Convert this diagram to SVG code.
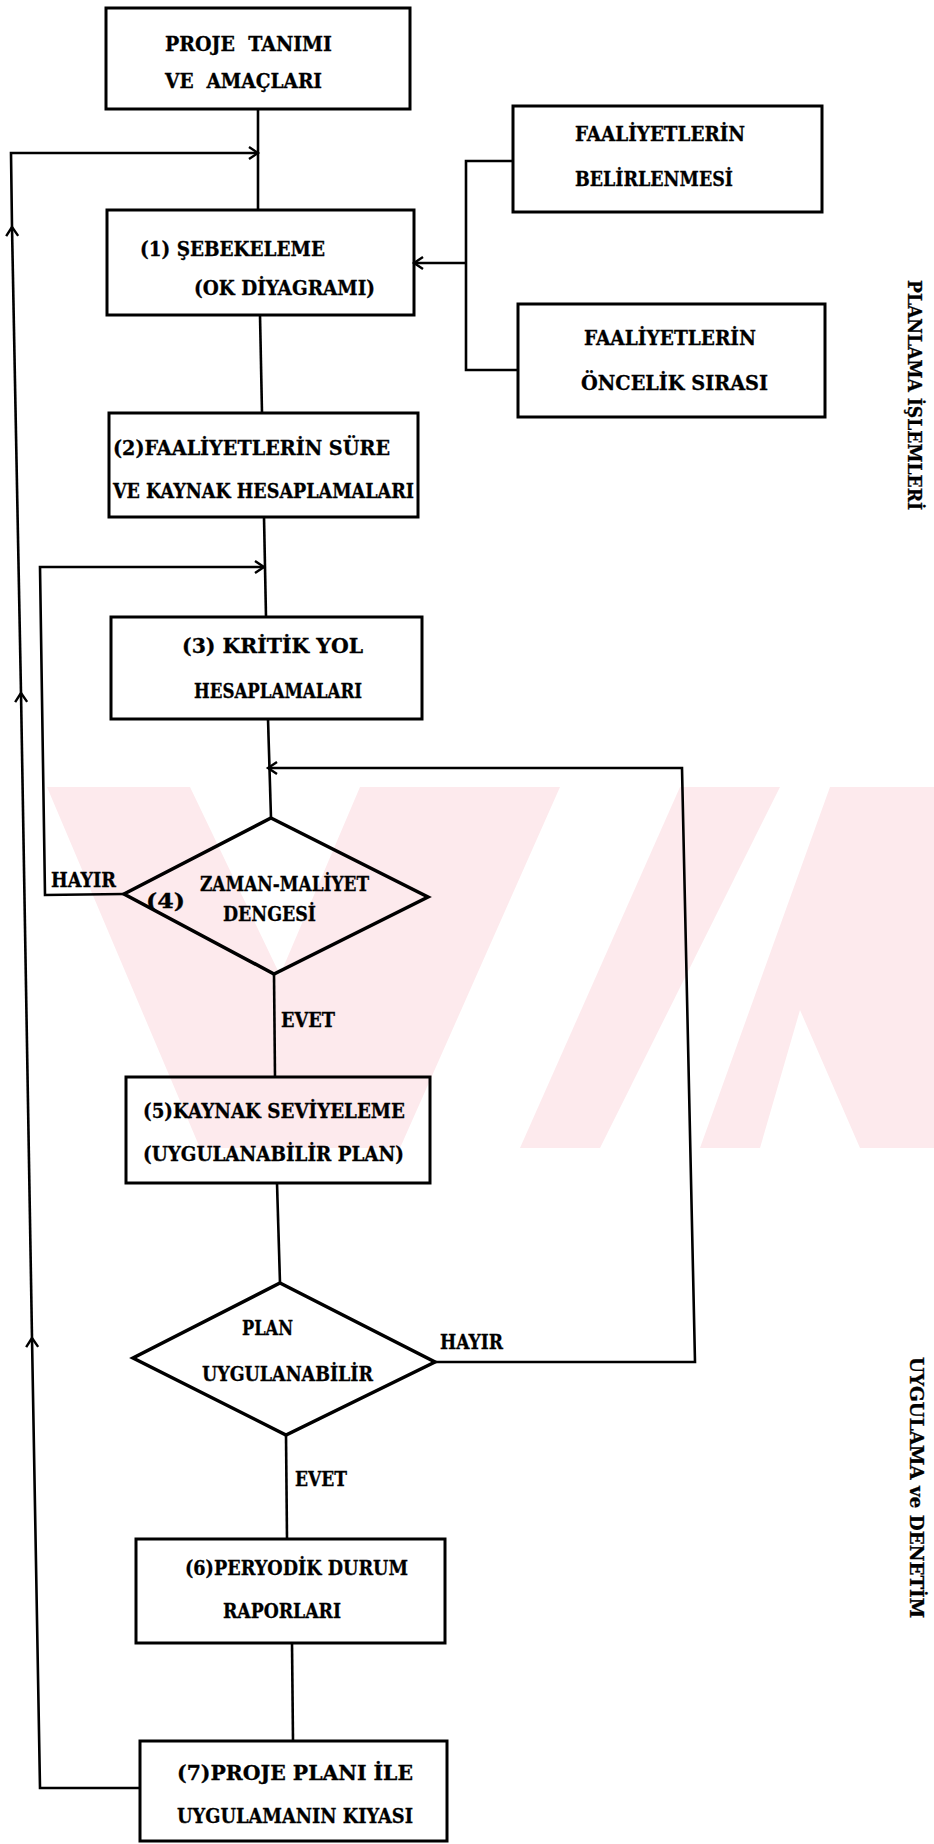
<svg xmlns="http://www.w3.org/2000/svg" width="934" height="1844" viewBox="0 0 934 1844">
<defs>
<style>
.t{font-family:"DejaVu Serif","Liberation Serif",serif;font-stretch:condensed;font-weight:bold;font-size:21px;fill:#000;stroke:#000;stroke-width:0.3}
.s{font-family:"DejaVu Serif","Liberation Serif",serif;font-stretch:condensed;font-weight:bold;font-size:19px;fill:#000;stroke:#000;stroke-width:0.3}
.box{fill:none;stroke:#000;stroke-width:3}
.dia{fill:none;stroke:#000;stroke-width:3.5;stroke-linejoin:miter}
.ln{fill:none;stroke:#000;stroke-width:2.6}
.wm{fill:#fdeaed}
</style>
<marker id="ah" markerWidth="14" markerHeight="16" refX="10" refY="7" orient="auto" markerUnits="userSpaceOnUse">
<path d="M1,1 L10,7 L1,13" fill="none" stroke="#000" stroke-width="2.4"/>
</marker>
</defs>
<rect width="934" height="1844" fill="#fff"/>
<g id="watermark">
<polygon class="wm" points="47,787 190,787 280,975 360,787 560,787 400,1148 200,1148"/>
<polygon class="wm" points="680,787 780,787 600,1148 520,1148"/>
<polygon class="wm" points="830,787 934,787 934,1148 860,1148 800,1010 760,1148 700,1148"/>
</g>
<g id="connectors">
<path class="ln" d="M258,110 L258,210"/>
<path class="ln" d="M260,315 L262,413"/>
<path class="ln" d="M264,517 L266,617"/>
<path class="ln" d="M268,719 L271,818"/>
<path class="ln" d="M274,974 L275,1077"/>
<path class="ln" d="M277,1183 L280,1283"/>
<path class="ln" d="M286,1435 L287,1539"/>
<path class="ln" d="M292,1643 L293,1741"/>
<path class="ln" d="M513,161 L466,161 L466,370 L518,370"/>
<path class="ln" d="M466,263 L414,263" marker-end="url(#ah)"/>
<path class="ln" d="M140,1788 L40,1788 L32,1338" marker-end="url(#ah)"/>
<path class="ln" d="M32,1338 L21,693" marker-end="url(#ah)"/>
<path class="ln" d="M21,693 L12,227" marker-end="url(#ah)"/>
<path class="ln" d="M12,227 L11,153 L258,153" marker-end="url(#ah)"/>
<path class="ln" d="M124,894 L45,895 L40,567 L264,567" marker-end="url(#ah)"/>
<path class="ln" d="M435,1362 L695,1362 L682,768 L268,768" marker-end="url(#ah)"/>
<text class="t" x="51" y="887" textLength="65" lengthAdjust="spacingAndGlyphs">HAYIR</text>
<text class="t" x="281" y="1027" textLength="54" lengthAdjust="spacingAndGlyphs">EVET</text>
<text class="t" x="440" y="1349" textLength="63" lengthAdjust="spacingAndGlyphs">HAYIR</text>
<text class="t" x="295" y="1486" textLength="52" lengthAdjust="spacingAndGlyphs">EVET</text>
</g>
<g id="n0">
<rect class="box" x="106" y="8" width="304" height="101"/>
<text class="t" x="165" y="51" xml:space="preserve" textLength="167" lengthAdjust="spacingAndGlyphs">PROJE  TANIMI</text>
<text class="t" x="165" y="88" xml:space="preserve" textLength="157" lengthAdjust="spacingAndGlyphs">VE  AMAÇLARI</text>
</g>
<g id="n1">
<rect class="box" x="107" y="210" width="307" height="105"/>
<text class="t" x="140" y="256" textLength="185" lengthAdjust="spacingAndGlyphs">(1) ŞEBEKELEME</text>
<text class="t" x="194" y="295" textLength="181" lengthAdjust="spacingAndGlyphs">(OK DİYAGRAMI)</text>
</g>
<g id="na">
<rect class="box" x="513" y="106" width="309" height="106"/>
<text class="t" x="575" y="141" textLength="170" lengthAdjust="spacingAndGlyphs">FAALİYETLERİN</text>
<text class="t" x="575" y="186" textLength="158" lengthAdjust="spacingAndGlyphs">BELİRLENMESİ</text>
</g>
<g id="nb">
<rect class="box" x="518" y="304" width="307" height="113"/>
<text class="t" x="584" y="345" textLength="172" lengthAdjust="spacingAndGlyphs">FAALİYETLERİN</text>
<text class="t" x="581" y="390" textLength="187" lengthAdjust="spacingAndGlyphs">ÖNCELİK SIRASI</text>
</g>
<g id="n2">
<rect class="box" x="109" y="413" width="309" height="104"/>
<text class="t" x="113" y="455" textLength="277" lengthAdjust="spacingAndGlyphs">(2)FAALİYETLERİN SÜRE</text>
<text class="t" x="113" y="498" textLength="301" lengthAdjust="spacingAndGlyphs">VE KAYNAK HESAPLAMALARI</text>
</g>
<g id="n3">
<rect class="box" x="111" y="617" width="311" height="102"/>
<text class="t" x="182" y="653" textLength="181" lengthAdjust="spacingAndGlyphs">(3) KRİTİK YOL</text>
<text class="t" x="194" y="698" textLength="168" lengthAdjust="spacingAndGlyphs">HESAPLAMALARI</text>
</g>
<g id="n4">
<polygon class="dia" points="271,818 428,897 274,974 124,894"/>
<text class="t" x="200" y="891" textLength="169" lengthAdjust="spacingAndGlyphs">ZAMAN-MALİYET</text>
<text class="t" x="146" y="908" textLength="39" lengthAdjust="spacingAndGlyphs">(4)</text>
<text class="t" x="223" y="921" textLength="93" lengthAdjust="spacingAndGlyphs">DENGESİ</text>
</g>
<g id="n5">
<rect class="box" x="126" y="1077" width="304" height="106"/>
<text class="t" x="143" y="1118" textLength="262" lengthAdjust="spacingAndGlyphs">(5)KAYNAK SEVİYELEME</text>
<text class="t" x="143" y="1161" textLength="261" lengthAdjust="spacingAndGlyphs">(UYGULANABİLİR PLAN)</text>
</g>
<g id="nd">
<polygon class="dia" points="280,1283 435,1362 286,1435 133,1358"/>
<text class="t" x="242" y="1335" textLength="51" lengthAdjust="spacingAndGlyphs">PLAN</text>
<text class="t" x="202" y="1381" textLength="171" lengthAdjust="spacingAndGlyphs">UYGULANABİLİR</text>
</g>
<g id="n6">
<rect class="box" x="136" y="1539" width="309" height="104"/>
<text class="t" x="185" y="1575" textLength="223" lengthAdjust="spacingAndGlyphs">(6)PERYODİK DURUM</text>
<text class="t" x="223" y="1618" textLength="118" lengthAdjust="spacingAndGlyphs">RAPORLARI</text>
</g>
<g id="n7">
<rect class="box" x="140" y="1741" width="307" height="100"/>
<text class="t" x="177" y="1780" textLength="236" lengthAdjust="spacingAndGlyphs">(7)PROJE PLANI İLE</text>
<text class="t" x="177" y="1823" textLength="236" lengthAdjust="spacingAndGlyphs">UYGULAMANIN KIYASI</text>
</g>
<g id="labels">
<text class="s" transform="translate(908,280) rotate(90)" textLength="230" lengthAdjust="spacingAndGlyphs">PLANLAMA İŞLEMLERİ</text>
<text class="s" transform="translate(910,1357) rotate(90)" textLength="261" lengthAdjust="spacingAndGlyphs">UYGULAMA ve DENETİM</text>
</g>
</svg>
